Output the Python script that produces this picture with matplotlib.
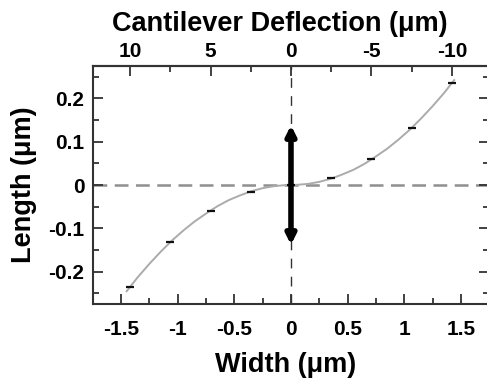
import matplotlib
matplotlib.use("Agg")
import matplotlib.pyplot as plt
from matplotlib.ticker import MultipleLocator, FixedLocator, FixedFormatter

plt.rcParams['font.family'] = ['Liberation Sans', 'DejaVu Sans']
plt.rcParams['font.weight'] = 'bold'

# measured data points (width, length)
width_pts = [-1.42, -1.065, -0.71, -0.355, 0.0, 0.355, 0.71, 1.065, 1.42]
length_pts = [-0.235, -0.132, -0.059, -0.0155, 0.0, 0.0155, 0.059, 0.132, 0.235]

# gray guide curve
curve_x = [-1.45, -1.35, -1.25, -1.15, -1.05, -0.95, -0.85, -0.75, -0.65, -0.55,
           -0.45, -0.35, -0.25, -0.15, -0.05, 0.0, 0.05, 0.15, 0.25, 0.35, 0.45,
           0.55, 0.65, 0.75, 0.85, 0.95, 1.05, 1.15, 1.25, 1.35, 1.44]
curve_y = [-0.245, -0.212, -0.182, -0.154, -0.128, -0.105, -0.084, -0.066, -0.049,
           -0.035, -0.024, -0.0143, -0.0073, -0.0026, -0.0003, 0.0, 0.0003, 0.0026,
           0.0073, 0.0143, 0.024, 0.035, 0.049, 0.066, 0.084, 0.105, 0.128, 0.154,
           0.182, 0.212, 0.242]

# double-headed arrow extent (length axis)
arrow_low, arrow_high = -0.138, 0.138

# top axis: deflection per width
deflection_per_width = 7.04
top_major = [10, 5, 0, -5, -10]
top_minor = [7.5, 2.5, -2.5, -7.5]

xticks = [-1.5, -1, -0.5, 0, 0.5, 1, 1.5]
xticklabels = ['-1.5', '-1', '-0.5', '0', '0.5', '1', '1.5']
yticks = [-0.2, -0.1, 0, 0.1, 0.2]
yticklabels = ['-0.2', '-0.1', '0', '0.1', '0.2']

TICK_FS = 15
LABEL_FS = 19.5

fig = plt.figure(figsize=(4.87, 3.83), dpi=100)
ax = fig.add_axes([0.1903, 0.2057, 0.8144, 0.6225])
ax.set_xlim(-1.75, 1.75)
ax.set_ylim(-0.275, 0.275)

ax.axhline(0, color='#8f8f8f', lw=1.8, ls=(0, (5.5, 3)), zorder=1)
ax.axvline(0, color='#333333', lw=1.0, ls=(0, (7, 6)), zorder=1)

ax.plot(curve_x, curve_y, color='#ababab', lw=1.4, zorder=2)
ax.plot(width_pts, length_pts, ls='none', marker='_', ms=6, mew=1.6, color='#111111', zorder=3)

ax.annotate('', xy=(0, arrow_high), xytext=(0, arrow_low),
            arrowprops=dict(arrowstyle='<|-|>', lw=4, color='black',
                            mutation_scale=14, shrinkA=0, shrinkB=0), zorder=4)

for s in ax.spines.values():
    s.set_linewidth(1.5)
    s.set_color('#333333')

ax.xaxis.set_major_locator(FixedLocator(xticks))
ax.xaxis.set_major_formatter(FixedFormatter(xticklabels))
ax.xaxis.set_minor_locator(MultipleLocator(0.25))
ax.yaxis.set_major_locator(FixedLocator(yticks))
ax.yaxis.set_major_formatter(FixedFormatter(yticklabels))
ax.yaxis.set_minor_locator(MultipleLocator(0.05))

ax.tick_params(which='both', direction='in', width=1.3, color='#333333',
               labelsize=TICK_FS, top=False, right=True)
ax.tick_params(which='major', length=7)
ax.tick_params(which='minor', length=4)
ax.tick_params(axis='x', pad=11.5)
ax.tick_params(axis='y', pad=6)
for lab in ax.get_xticklabels() + ax.get_yticklabels():
    lab.set_fontweight('bold')

ax.set_xlabel('Width (\u03bcm)', fontsize=LABEL_FS, fontweight='bold', labelpad=9.3)
ax.xaxis.label.set_x(0.487)
ax.set_ylabel('Length (\u03bcm)', fontsize=LABEL_FS, fontweight='bold', labelpad=8)

sec = ax.secondary_xaxis('top', functions=(lambda w: -w * deflection_per_width,
                                           lambda d: -d / deflection_per_width))
sec.xaxis.set_major_locator(FixedLocator(top_major))
sec.xaxis.set_major_formatter(FixedFormatter([str(v) for v in top_major]))
sec.xaxis.set_minor_locator(FixedLocator(top_minor))
sec.tick_params(which='both', direction='in', width=1.3, color='#333333', labelsize=TICK_FS, pad=3.5)
sec.tick_params(which='major', length=7)
sec.tick_params(which='minor', length=4)
sec.spines['top'].set_linewidth(1.5)
sec.spines['top'].set_color('#333333')
for lab in sec.get_xticklabels():
    lab.set_fontweight('bold')
sec.set_xlabel('Cantilever Deflection (\u03bcm)', fontsize=LABEL_FS, fontweight='bold', labelpad=8)
sec.xaxis.label.set_x(0.471)

fig.savefig('out.png', dpi=100)
